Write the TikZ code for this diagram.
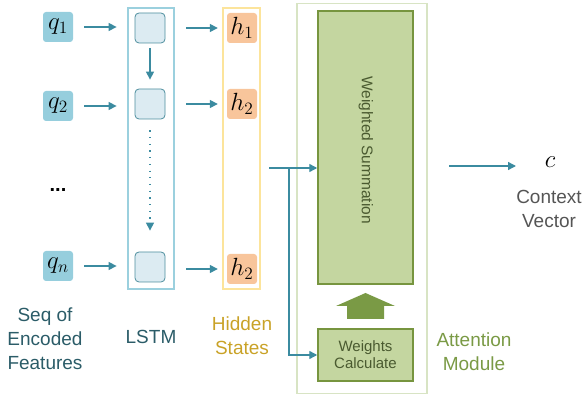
\documentclass[tikz,border=0pt]{standalone}
\usepackage{fontspec}
\setmainfont{Liberation Sans}
\usetikzlibrary{arrows.meta}
\definecolor{qfill}{HTML}{96CEDD}
\definecolor{cellfill}{HTML}{DCEBF2}
\definecolor{celldraw}{HTML}{4E8E9E}
\definecolor{lstmborder}{HTML}{9BD0DE}
\definecolor{hfill}{HTML}{F8C59B}
\definecolor{hsborder}{HTML}{FCE49B}
\definecolor{arrc}{HTML}{3B8BA0}
\definecolor{wsfill}{HTML}{C4D6A0}
\definecolor{wsdraw}{HTML}{77953F}
\definecolor{attnborder}{HTML}{D8E4C4}
\definecolor{bigarr}{HTML}{7A9A45}
\definecolor{labdark}{HTML}{2B5C68}
\definecolor{labgold}{HTML}{C9A227}
\definecolor{labgreen}{HTML}{7A9A45}
\definecolor{labgray}{HTML}{555555}
\definecolor{wstext}{HTML}{4A5A30}
\newcommand{\mybigmath}[1]{\scalebox{1.2}{$#1$}}
\begin{document}
\begin{tikzpicture}[x=1pt,y=-1pt,
  qbox/.style={fill=qfill,rounded corners=3pt,minimum width=30pt,minimum height=30pt,inner sep=0pt,font=\fontsize{20}{20}\selectfont},
  cellbox/.style={fill=cellfill,draw=celldraw,line width=0.8pt,rounded corners=4pt,minimum width=30pt,minimum height=30pt,inner sep=0pt},
  hbox/.style={fill=hfill,rounded corners=3pt,minimum width=30pt,minimum height=30pt,inner sep=0pt,font=\fontsize{20}{20}\selectfont},
  arr/.style={draw=arrc,line width=1.4pt,-{Triangle[length=8pt,width=8pt]}},
  lab/.style={font=\fontsize{19}{24}\selectfont,align=center,inner sep=0pt},
  greenbox/.style={fill=wsfill,draw=wsdraw,line width=1.5pt,inner sep=0pt}]
\useasboundingbox (0,0) rectangle (582,395);
% outer columns
\node[draw=lstmborder,line width=1.2pt,minimum width=46pt,minimum height=281pt,inner sep=0pt] (lstmcol) at (151,148.5) {};
\node[draw=hsborder,line width=1.2pt,minimum width=37pt,minimum height=281pt,inner sep=0pt] (hscol) at (241.5,148.5) {};
\node[draw=attnborder,line width=1.2pt,minimum width=130pt,minimum height=390pt,inner sep=0pt] (attn) at (362,198.5) {};
% inputs
\node[qbox] (q1) at (58,27) {\mybigmath{q_1}};
\node[qbox] (q2) at (58,106) {\mybigmath{q_2}};
\node[qbox] (qn) at (58,266) {\mybigmath{q_n}};
\node[font=\fontsize{20}{20}\selectfont\bfseries] (dots) at (58,190) {...};
% lstm cells
\node[cellbox] (c1) at (150,28) {};
\node[cellbox] (c2) at (150,104) {};
\node[cellbox] (cn) at (150,267) {};
% hidden states
\node[hbox] (h1) at (242,28) {\mybigmath{h_1}};
\node[hbox] (h2) at (242,104) {\mybigmath{h_2}};
\node[hbox] (hn) at (242,269) {\mybigmath{h_2}};
% arrows q -> cells
\draw[arr,shorten <=11pt,shorten >=18pt] (q1.east) -- (q1.east -| c1.west);
\draw[arr,shorten <=11pt,shorten >=18pt] (q2.east) -- (q2.east -| c2.west);
\draw[arr,shorten <=11pt,shorten >=18pt] (qn.east) -- (qn.east -| cn.west);
% cells -> h
\draw[arr,shorten <=21pt,shorten >=9pt] (c1.east |- h1.west) -- (h1.west);
\draw[arr,shorten <=21pt,shorten >=9pt] (c2.east |- h2.west) -- (h2.west);
\draw[arr,shorten <=21pt,shorten >=9pt] (cn.east |- hn.west) -- (hn.west);
% vertical lstm arrows
\draw[arr,shorten <=5pt,shorten >=9pt] (c1.south) -- (c2.north);
\draw[arr,line width=1.2pt,dash pattern=on 1.2pt off 5.5pt,shorten <=11pt,shorten >=21pt] (c2.south) -- (cn.north);
% attention module
\node[greenbox,minimum width=95pt,minimum height=273pt] (ws) at (365.5,147.5) {};
\node[rotate=-90,font=\fontsize{15.5}{15.5}\selectfont,text=wstext] (wstxt) at (366,150) {Weighted Summation};
\node[greenbox,minimum width=95pt,minimum height=52pt,align=center,font=\fontsize{15}{17}\selectfont,text=wstext] (wc) at (365.5,355) {Weights\\Calculate};
\path[fill=bigarr] (347,319) -- (347,306) -- (336,306) -- (365.5,293) -- (395,306) -- (384,306) -- (384,319) -- cycle;
% connectors from hidden states
\coordinate (hs) at (269,168);
\coordinate (br) at (289,168);
\draw[arr] (hs) -- (ws.west |- hs);
\draw[arr] (br) |- (wc.west);
% output
\coordinate (outstart) at (449,166);
\coordinate (outend) at (516,166);
\draw[arr] (outstart) -- (outend);
\node[font=\fontsize{20}{20}\selectfont] (cvec) at (550,162) {\mybigmath{c}};
% labels
\node[lab,text=labdark] (seqlab) at (45,339) {Seq of\\Encoded\\Features};
\node[lab,text=labdark] (lstmlab) at (151,337) {LSTM};
\node[lab,text=labgold] (hslab) at (242,336) {Hidden\\States};
\node[lab,text=labgreen] (attnlab) at (474,352) {Attention\\Module};
\node[lab,text=labgray] (ctxlab) at (549,209) {Context\\Vector};
\end{tikzpicture}
\end{document}
